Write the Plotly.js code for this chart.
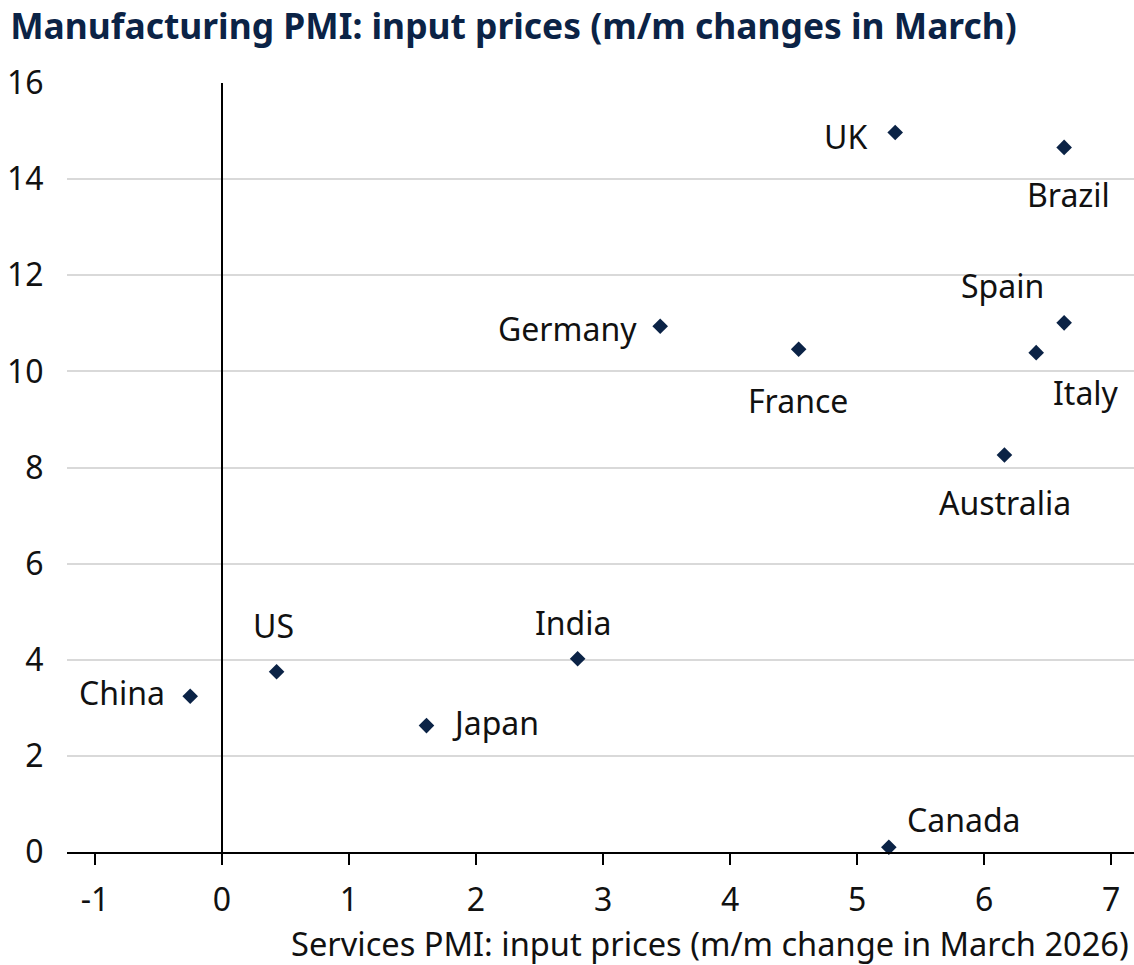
<!DOCTYPE html>
<html>
<head>
<meta charset="utf-8">
<script src="https://cdn.plot.ly/plotly-3.0.1.min.js"></script>
<style>html,body{margin:0;padding:0;background:#fff;}#chart{width:1134px;height:965px;}</style>
</head>
<body>
<div id="chart"></div>
<script>
// Data
const countries = ["UK","Brazil","Germany","France","Spain","Italy","Australia","India","US","China","Japan","Canada"];
const servicesInput = [5.30, 6.63, 3.45, 4.54, 6.63, 6.41, 6.16, 2.80, 0.43, -0.25, 1.61, 5.25];
const manufacturingInput = [14.97, 14.66, 10.94, 10.46, 11.01, 10.39, 8.26, 4.02, 3.75, 3.24, 2.63, 0.10];
const xTickVals = [-1, 0, 1, 2, 3, 4, 5, 6, 7];
const yTickVals = [0, 2, 4, 6, 8, 10, 12, 14, 16];

// Label placement (style only)
const labelStyle = {
  "UK":        {xanchor: "right",  xshift: -26, yshift: -4},
  "Brazil":    {xanchor: "center", xshift: 4,   yshift: -47},
  "Germany":   {xanchor: "right",  xshift: -21, yshift: -2},
  "France":    {xanchor: "center", xshift: -1,  yshift: -51},
  "Spain":     {xanchor: "center", xshift: -62, yshift: 37},
  "Italy":     {xanchor: "center", xshift: 50,  yshift: -40},
  "Australia": {xanchor: "center", xshift: 1,   yshift: -47},
  "India":     {xanchor: "center", xshift: -4,  yshift: 36},
  "US":        {xanchor: "center", xshift: -3,  yshift: 46},
  "China":     {xanchor: "right",  xshift: -23, yshift: 4},
  "Japan":     {xanchor: "left",   xshift: 24,  yshift: 3},
  "Canada":    {xanchor: "center", xshift: 75,  yshift: 28}
};

const navy = "#0b2346";
const fontFam = "Noto Sans, Open Sans, sans-serif";

const trace = {
  type: "scatter",
  mode: "markers",
  x: servicesInput,
  y: manufacturingInput,
  text: countries,
  hoverinfo: "text",
  marker: {symbol: "diamond", size: 12, color: navy},
  cliponaxis: false
};

const annotations = countries.map((c, i) => Object.assign({
  x: servicesInput[i], y: manufacturingInput[i], xref: "x", yref: "y",
  text: c, showarrow: false, yanchor: "middle",
  font: {family: fontFam, size: 32, color: "#111111"}
}, labelStyle[c]));

annotations.push({
  xref: "paper", yref: "paper", x: 1, y: 0, xanchor: "right", yanchor: "middle",
  yshift: -91, xshift: -3, showarrow: false,
  text: "Services PMI: input prices (m/m change in March 2026)",
  font: {family: fontFam, size: 32.6, color: "#111111"}
});

const layout = {
  width: 1134, height: 965,
  margin: {l: 67, r: 0, t: 83, b: 113},
  paper_bgcolor: "#ffffff", plot_bgcolor: "#ffffff",
  showlegend: false,
  title: {
    text: "Manufacturing PMI: input prices (m/m changes in March)",
    x: 0.009, xanchor: "left", xref: "container",
    y: 0.972, yanchor: "middle", yref: "container",
    font: {family: fontFam, size: 35.4, color: navy, weight: "bold"}
  },
  xaxis: {
    range: [-1.22, 7.18],
    tickvals: xTickVals, ticktext: xTickVals.map(String),
    showgrid: false,
    zeroline: true, zerolinecolor: "#000000", zerolinewidth: 2,
    showline: true, linecolor: "#000000", linewidth: 2,
    ticks: "outside", ticklen: 11, tickwidth: 2, tickcolor: "#000000",
    ticklabelstandoff: 8,
    tickfont: {family: fontFam, size: 32, color: "#111111"},
    fixedrange: true
  },
  yaxis: {
    range: [0, 16],
    tickvals: yTickVals, ticktext: yTickVals.map(String),
    showgrid: true, gridcolor: "#d9d9d9", gridwidth: 2,
    zeroline: false, showline: false,
    ticks: "outside", ticklen: 16, tickcolor: "rgba(0,0,0,0)",
    tickfont: {family: fontFam, size: 32, color: "#111111"},
    fixedrange: true
  },
  annotations: annotations
};

Plotly.newPlot("chart", [trace], layout, {displayModeBar: false, staticPlot: true});
</script>
</body>
</html>
